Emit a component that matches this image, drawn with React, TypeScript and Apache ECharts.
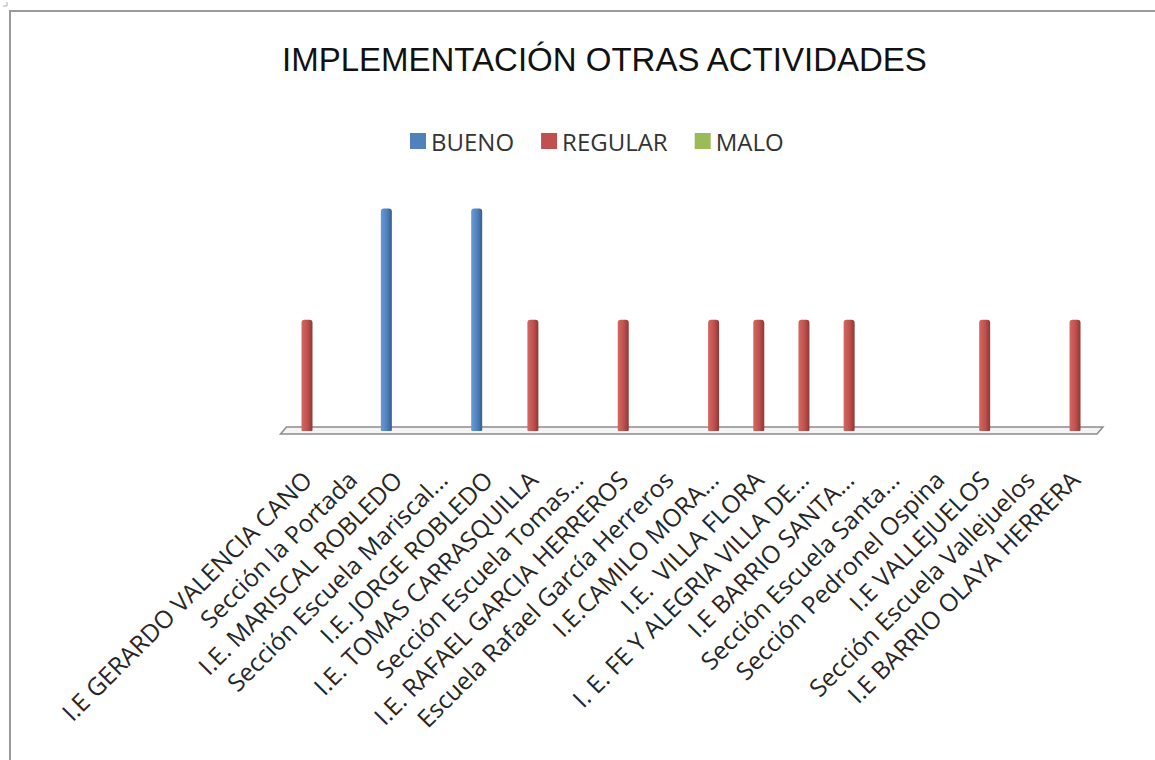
import React, { useEffect, useRef } from "react";
import * as echarts from "echarts";

const TITLE = "IMPLEMENTACIÓN OTRAS ACTIVIDADES";
const SERIES_NAMES = ["BUENO", "REGULAR", "MALO"];
const CATEGORIES = [
  "I.E GERARDO VALENCIA CANO",
  "Sección la Portada",
  "I.E. MARISCAL ROBLEDO",
  "Sección Escuela Mariscal...",
  "I.E. JORGE ROBLEDO",
  "I.E. TOMAS CARRASQUILLA",
  "Sección Escuela Tomas...",
  "I.E. RAFAEL GARCIA HERREROS",
  "Escuela Rafael García Herreros",
  "I.E.CAMILO MORA...",
  "I.E.  VILLA FLORA",
  "I. E. FE Y ALEGRIA VILLA DE...",
  "I.E BARRIO SANTA...",
  "Sección Escuela Santa...",
  "Sección Pedronel Ospina",
  "I.E VALLEJUELOS",
  "Sección Escuela Vallejuelos",
  "I.E BARRIO OLAYA HERRERA",
];
const BUENO = [null, null, 2, null, 2, null, null, null, null, null, null, null, null, null, null, null, null, null];
const REGULAR = [1, null, null, null, null, 1, null, 1, null, 1, 1, 1, 1, null, null, 1, null, 1];
const MALO = [null, null, null, null, null, null, null, null, null, null, null, null, null, null, null, null, null, null];

const COLORS = ["#4F81BD", "#C0504D", "#9BBB59"];
const LIGHT = ["#6A98D6", "#D36863", "#B0CC72"];
const DARK = ["#385D8A", "#8C3836", "#71893F"];

export default function App() {
  const ref = useRef<HTMLDivElement>(null);
  useEffect(() => {
    document.body.style.margin = "0";
    const chart = echarts.init(ref.current!, null, { renderer: "svg" });
    const values = [BUENO, REGULAR, MALO];
    const grad = (i: number) =>
      new echarts.graphic.LinearGradient(0, 0, 1, 0, [
        { offset: 0, color: LIGHT[i] },
        { offset: 0.55, color: COLORS[i] },
        { offset: 1, color: DARK[i] },
      ]);
    chart.setOption({
      animation: false,
      backgroundColor: "#ffffff",
      title: {
        text: TITLE,
        left: 282,
        top: 43,
        padding: 0,
        textStyle: {
          fontFamily: "Liberation Sans",
          fontSize: 33,
          fontWeight: "normal",
          color: "#111",
        },
      },
      legend: {
        left: 405,
        top: 124,
        itemWidth: 16,
        itemHeight: 16,
        itemGap: 27,
        icon: "rect",
        textStyle: { fontFamily: "Open Sans", fontSize: 24, color: "#333" },
        data: SERIES_NAMES.map((n, i) => ({ name: n, itemStyle: { color: COLORS[i] } })),
      },
      grid: { left: 284.4, right: 57.4, top: 208.5, bottom: 329 },
      xAxis: {
        type: "category",
        data: CATEGORIES,
        axisLine: { show: false },
        axisTick: { show: false },
        axisLabel: {
          interval: 0,
          rotate: 45,
          margin: 44,
          fontFamily: "Open Sans",
          fontSize: 24.5,
          color: "#262626",
        },
      },
      yAxis: {
        type: "value",
        min: 0,
        max: 2,
        show: false,
        splitLine: { show: false },
      },
      graphic: [
        {
          type: "polyline",
          z: 100,
          shape: { points: [[10, 760], [10, 11], [1155, 11]] },
          style: { stroke: "#9a9a9a", lineWidth: 2, fill: null },
        },
        {
          type: "polyline",
          z: 100,
          shape: { points: [[3, 6], [7, 6], [7, 2]] },
          style: { stroke: "#b0b0b0", lineWidth: 1, fill: null },
        },
        {
          type: "polygon",
          z: 0,
          shape: { points: [[286.5, 427], [1103, 427], [1097, 434], [280.5, 434]] },
          style: { fill: "#f4f4f4", stroke: "#8c8c8c", lineWidth: 1.5 },
        },
      ],
      series: SERIES_NAMES.map((n, i) => ({
        name: n,
        type: "bar",
        data: values[i],
        barWidth: 11,
        barGap: "0%",
        z: 5,
        itemStyle: { color: grad(i), borderRadius: [3, 3, 1, 1] },
      })),
    });
    return () => chart.dispose();
  }, []);
  return (
    <div
      ref={ref}
      style={{ position: "absolute", left: 0, top: 0, width: 1155, height: 760 }}
    />
  );
}
